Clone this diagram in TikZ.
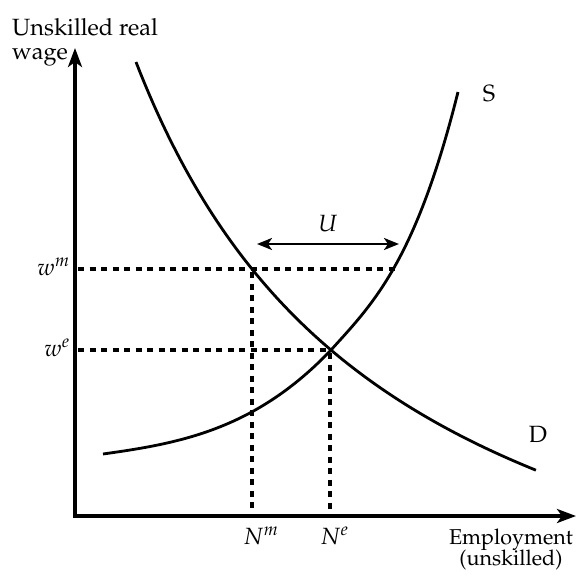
\documentclass[tikz,border=0pt]{standalone}
\usepackage[T1]{fontenc}
\usepackage{mathpazo}
\usetikzlibrary{arrows.meta}
\begin{document}
\begin{tikzpicture}[x=1pt,y=-1pt,
  axis/.style={line width=3.6pt,-{Stealth[length=19pt,width=14pt,inset=5pt]}},
  curve/.style={line width=2.8pt},
  dotline/.style={line width=3.2pt,dash pattern=on 6pt off 5.5pt},
  uarrow/.style={line width=2.4pt,{Stealth[length=15pt,width=12pt,inset=4pt]}-{Stealth[length=15pt,width=12pt,inset=4pt]}},
  lbl/.style={font=\fontsize{23.5}{23.5}\selectfont,inner sep=0pt},
  slbl/.style={font=\fontsize{21.5}{21.5}\selectfont,inner sep=0pt}
]
\useasboundingbox (0,0) rectangle (582,574);
% axes
\coordinate (O) at (75,516);
\coordinate (O2) at (73.2,516);
\coordinate (Ytip) at (75,48);
\coordinate (Xtip) at (576,516);
% dashed guides
\coordinate (wmA) at (78,269);
\coordinate (wmB) at (395,269);
\coordinate (weA) at (78,350);
\coordinate (weB) at (330,350);
\coordinate (NmA) at (252,272);
\coordinate (NmB) at (252,513);
\coordinate (NeA) at (330,353);
\coordinate (NeB) at (330,513);
\draw[dotline] (wmA) -- (wmB);
\draw[dotline] (weA) -- (weB);
\draw[dotline] (NmA) -- (NmB);
\draw[dotline] (NeA) -- (NeB);
% demand curve
\draw[curve] plot[domain=1.36:5.36,samples=90,variable=\t] ({100*\t},{738.9-1782.17/(\t+1.273)});
% supply curve
\coordinate (S0) at (103,454);
\coordinate (E) at (331,350);
\coordinate (S1) at (458,92);
\draw[curve] (S0) .. controls (179,443.4) and (255,430) .. (E)
  .. controls (373.3,303.4) and (415.7,261) .. (S1);
% axes on top
\draw[axis] (O) -- (Ytip);
\draw[axis] (O2) -- (Xtip);
% U arrow
\coordinate (Ul) at (257,244);
\coordinate (Ur) at (399,244);
\draw[uarrow] (Ul) -- (Ur);
% labels
\node[lbl,anchor=base west] (yl1) at (12,35) {Unskilled real};
\node[lbl,anchor=base west] (yl2) at (12,59) {wage};
\node[lbl,anchor=base east] (wm) at (70,275) {$w^m$};
\node[lbl,anchor=base east] (we) at (70,356) {$w^e$};
\node[lbl,anchor=base west] (Nm) at (243,544) {$N^m$};
\node[lbl,anchor=base west] (Ne) at (320,544) {$N^e$};
\node[slbl,anchor=base] (xl1) at (511,544) {Employment};
\node[slbl,anchor=base] (xl2) at (511,565) {(unskilled)};
\node[lbl] (U) at (328,224) {$U$};
\node[lbl] (S) at (489,94) {S};
\node[lbl] (D) at (538,434) {D};
\end{tikzpicture}
\end{document}
